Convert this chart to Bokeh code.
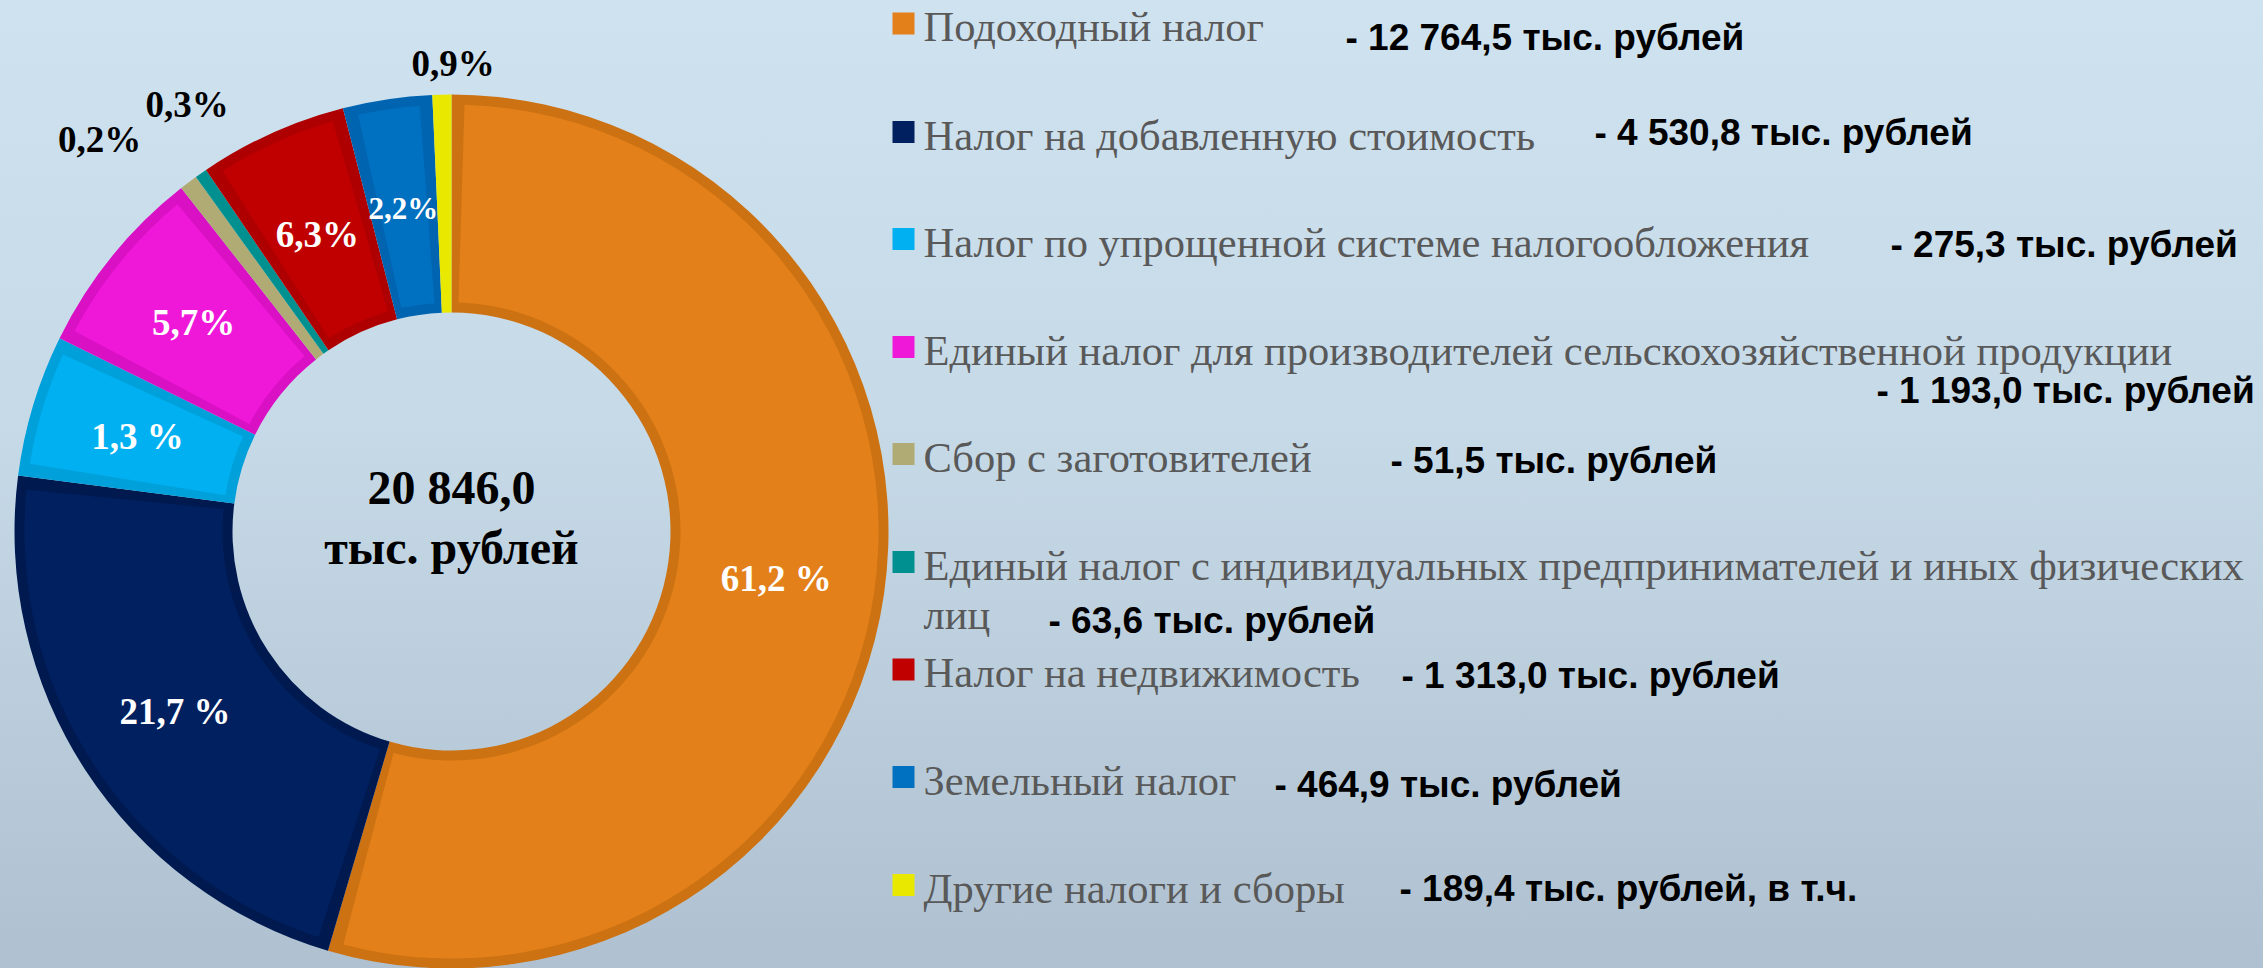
import numpy as np
from bokeh.plotting import figure
from bokeh.models import ColumnDataSource, Range1d
from bokeh.core.properties import value
from bokeh.embed import file_html
from bokeh.resources import INLINE

# ---------------- data ----------------
categories = [
    "Подоходный налог",
    "Налог на добавленную стоимость",
    "Налог по упрощенной системе налогообложения",
    "Единый налог для производителей сельскохозяйственной продукции",
    "Сбор с заготовителей",
    "Единый налог с индивидуальных предпринимателей и иных физических лиц",
    "Налог на недвижимость",
    "Земельный налог",
    "Другие налоги и сборы",
]
amounts = [12764.5, 4530.8, 275.3, 1193.0, 51.5, 63.6, 1313.0, 464.9, 189.4]
amount_suffix = ["", "", "", "", "", "", "", "", ", в т.ч."]
pct_labels = ["61,2 %", "21,7 %", "1,3 %", "5,7%", "0,2%", "0,3%", "6,3%", "2,2%", "0,9%"]
# slice sizes as drawn in the picture (percent of the ring)
slice_shares = [54.6, 22.5, 5.25, 7.1, 0.67, 0.45, 5.5, 3.3, 0.7]
total_label = "20 846,0"
total_unit = "тыс. рублей"

# ---------------- styles ----------------
fill_colors = ["#E3801A", "#002060", "#00B0F0", "#F018D8", "#B0AA74",
               "#009090", "#C00000", "#0070C0", "#E8E800"]
edge_colors = ["#CC7212", "#001A50", "#00A0DA", "#D910C4", "#B0AA74",
               "#009090", "#AE0000", "#0064B0", "#E8E800"]
pct_colors = ["white"] * 4 + ["black", "black"] + ["white", "white", "black"]
pct_sizes = ["37px"] * 7 + ["31px", "37px"]

W, H = 2263, 968
CX, CY_PX = 451, 531
R_OUT, R_IN, R_LAB = 437, 219, 328
EDGE = 10

# label placement tweaks (radius, angular shift in degrees) for outside labels
lab_radius = [R_LAB, 330, R_LAB, 332, 527, 502, 326, 327, 468]
lab_shift = [0, 0, 0, 0, -4.9, 3.2, 0, 0, 1.45]

# legend layout (pixel rows)
marker_cy = [23, 131.5, 238.5, 346.5, 453.5, 561.5, 669, 776.5, 884.5]
value_x = [1345, 1594, 1890, 1876, 1390, 1048, 1401, 1274, 1399]
value_base = [37, 132, 244, 390, 460, 620, 675, 784, 888]

def py(y):
    return H - np.asarray(y, dtype=float)

def fmt(v):
    return f"{v:,.1f}".replace(",", " ").replace(".", ",")

p = figure(width=W, height=H, x_range=Range1d(0, W), y_range=Range1d(0, H),
           output_backend="svg", toolbar_location=None, min_border=0,
           background_fill_color=None, border_fill_color=None,
           outline_line_color=None)
p.axis.visible = False
p.grid.visible = False
p.styles = {"background": "linear-gradient(180deg, #cfe2ef 0%, #c6d9e7 45%, #afc1d0 100%)"}

# ---------------- donut ----------------
sh = np.array(slice_shares, dtype=float)
sh = sh / sh.sum()
cum = np.concatenate([[0], np.cumsum(sh)]) * 360.0
s_cw, e_cw = cum[:-1], cum[1:]
start = np.radians(90 - s_cw)
end = np.radians(90 - e_cw)

src = ColumnDataSource(dict(start=start, end=end, edge=edge_colors, fill=fill_colors))
p.annular_wedge(x=CX, y=H - CY_PX, inner_radius=R_IN, outer_radius=R_OUT,
                start_angle="start", end_angle="end", direction="clock",
                fill_color="edge", line_color=None, source=src)

span = e_cw - s_cw
inset = np.degrees(EDGE / R_LAB)
mask = span > 4
src2 = ColumnDataSource(dict(
    start=np.radians(90 - (s_cw[mask] + inset)),
    end=np.radians(90 - (e_cw[mask] - inset)),
    fill=[c for c, m in zip(fill_colors, mask) if m]))
p.annular_wedge(x=CX, y=H - CY_PX, inner_radius=R_IN + EDGE, outer_radius=R_OUT - EDGE,
                start_angle="start", end_angle="end", direction="clock",
                fill_color="fill", line_color=None, source=src2)

mid = np.radians((s_cw + e_cw) / 2 + np.array(lab_shift))
lr = np.array(lab_radius, dtype=float)
lab_src = ColumnDataSource(dict(
    x=CX + lr * np.sin(mid), y=(H - CY_PX) + lr * np.cos(mid),
    text=pct_labels, color=pct_colors, size=pct_sizes))
p.text(x="x", y="y", text="text", source=lab_src, text_color="color",
       text_font_size="size", text_font=value("Liberation Serif"),
       text_font_style="bold", text_align="center", text_baseline="middle")

p.text(x=[CX, CX], y=py([487, 547]), text=[total_label, total_unit],
       text_font=value("Liberation Serif"), text_font_style="bold",
       text_font_size="48px", text_color="black", text_align="center",
       text_baseline="alphabetic")

# ---------------- legend ----------------
p.rect(x=903, y=py(marker_cy), width=22, height=22, fill_color=fill_colors,
       line_color=None)

lab_x, lab_y, lab_t = [], [], []
for i, name in enumerate(categories):
    base = marker_cy[i] + 3
    if i == 5:
        first, last = name.rsplit(" ", 1)
        lab_x += [923, 923]
        lab_y += [base, base + 49]
        lab_t += [first, last]
    else:
        lab_x.append(923)
        lab_y.append(base)
        lab_t.append(name)
p.text(x=lab_x, y=py(lab_y), text=lab_t, text_font=value("Liberation Serif"),
       text_font_size="42.5px", text_color="#595959", text_align="left",
       text_baseline="alphabetic")

val_t = [f"- {fmt(v)} тыс. рублей{s}" for v, s in zip(amounts, amount_suffix)]
p.text(x=value_x, y=py(value_base), text=val_t, text_font=value("Liberation Sans"),
       text_font_style="bold", text_font_size="37px", text_color="black",
       text_align="left", text_baseline="alphabetic")

open("out.html", "w").write(file_html(p, INLINE))
